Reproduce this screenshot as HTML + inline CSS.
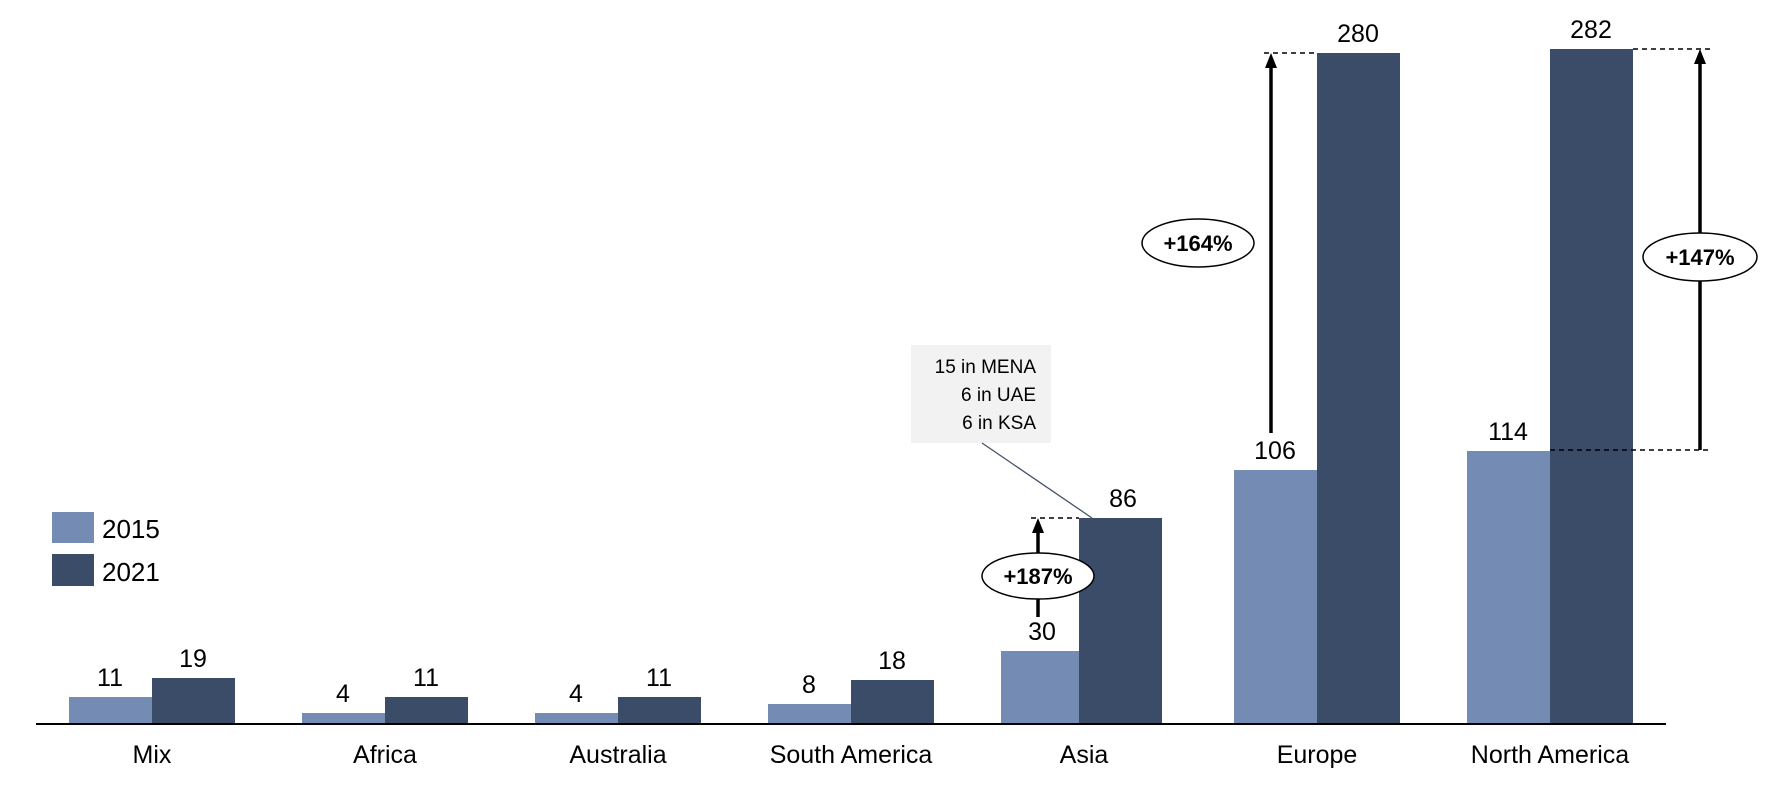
<!DOCTYPE html>
<html><head><meta charset="utf-8"><style>html,body{margin:0;padding:0;background:#fff}svg{display:block}</style></head>
<body>
<svg width="1772" height="794" viewBox="0 0 1772 794" xmlns="http://www.w3.org/2000/svg" font-family="Liberation Sans, Arial, sans-serif">
<g fill="#748cb4">
<rect x="69" y="697" width="83" height="26"/>
<rect x="302" y="713" width="83" height="10"/>
<rect x="535" y="713" width="83" height="10"/>
<rect x="768" y="704" width="83" height="19"/>
<rect x="1001" y="651" width="83" height="72"/>
<rect x="1234" y="470" width="83" height="253"/>
<rect x="1467" y="451" width="83" height="272"/>
</g>
<g fill="#3b4c69">
<rect x="152" y="678" width="83" height="45"/>
<rect x="385" y="697" width="83" height="26"/>
<rect x="618" y="697" width="83" height="26"/>
<rect x="851" y="680" width="83" height="43"/>
<rect x="1079" y="518" width="83" height="205"/>
<rect x="1317" y="53" width="83" height="670"/>
<rect x="1550" y="49" width="83" height="674"/>
</g>
<line x1="36" y1="724" x2="1666" y2="724" stroke="#000" stroke-width="2"/>
<g font-size="25" text-anchor="middle" fill="#000">
<text x="110" y="686">11</text><text x="193" y="667">19</text>
<text x="343" y="702">4</text><text x="426" y="686">11</text>
<text x="576" y="702">4</text><text x="659" y="686">11</text>
<text x="809" y="693">8</text><text x="892" y="669">18</text>
<text x="1042" y="640">30</text><text x="1123" y="507">86</text>
<text x="1275" y="459">106</text><text x="1358" y="42">280</text>
<text x="1508" y="440">114</text><text x="1591" y="38">282</text>
</g>
<g font-size="25" text-anchor="middle" fill="#000">
<text x="152" y="763">Mix</text><text x="385" y="763">Africa</text><text x="618" y="763">Australia</text>
<text x="851" y="763">South America</text><text x="1084" y="763">Asia</text><text x="1317" y="763">Europe</text><text x="1550" y="763">North America</text>
</g>
<rect x="52" y="512" width="42" height="31" fill="#748cb4"/>
<rect x="52" y="554" width="42" height="32" fill="#3b4c69"/>
<text x="102" y="538" font-size="26">2015</text>
<text x="102" y="581" font-size="26">2021</text>
<rect x="911" y="345" width="140" height="98" fill="#f2f2f2"/>
<g font-size="19" text-anchor="end" fill="#000">
<text x="1036" y="373">15 in MENA</text><text x="1036" y="401">6 in UAE</text><text x="1036" y="429">6 in KSA</text>
</g>
<line x1="982" y1="443" x2="1092" y2="518" stroke="#44546a" stroke-width="1.3"/>
<g stroke="#000" stroke-width="1.5" stroke-dasharray="5,4">
<line x1="1031" y1="518" x2="1079" y2="518"/>
<line x1="1264" y1="53" x2="1317" y2="53"/>
<line x1="1633" y1="49" x2="1710" y2="49"/>
<line x1="1550" y1="450" x2="1710" y2="450"/>
</g>
<g stroke="#000" stroke-width="3.5" fill="none">
<line x1="1038" y1="553" x2="1038" y2="530"/>
<line x1="1038" y1="599" x2="1038" y2="617"/>
<line x1="1271" y1="433" x2="1271" y2="65"/>
<line x1="1700" y1="450" x2="1700" y2="61"/>
</g>
<g fill="#000">
<polygon points="1038,518 1032,533 1044,533"/>
<polygon points="1271,53 1265,68 1277,68"/>
<polygon points="1700,49 1694,64 1706,64"/>
</g>
<g fill="#fff" stroke="#000" stroke-width="1.5">
<ellipse cx="1038" cy="576" rx="56" ry="23"/>
<ellipse cx="1198" cy="243" rx="56" ry="24"/>
<ellipse cx="1700" cy="257" rx="57" ry="24"/>
</g>
<g font-size="22" font-weight="bold" text-anchor="middle" fill="#000">
<text x="1038" y="584">+187%</text><text x="1198" y="251">+164%</text><text x="1700" y="265">+147%</text>
</g>
</svg>
</body></html>
